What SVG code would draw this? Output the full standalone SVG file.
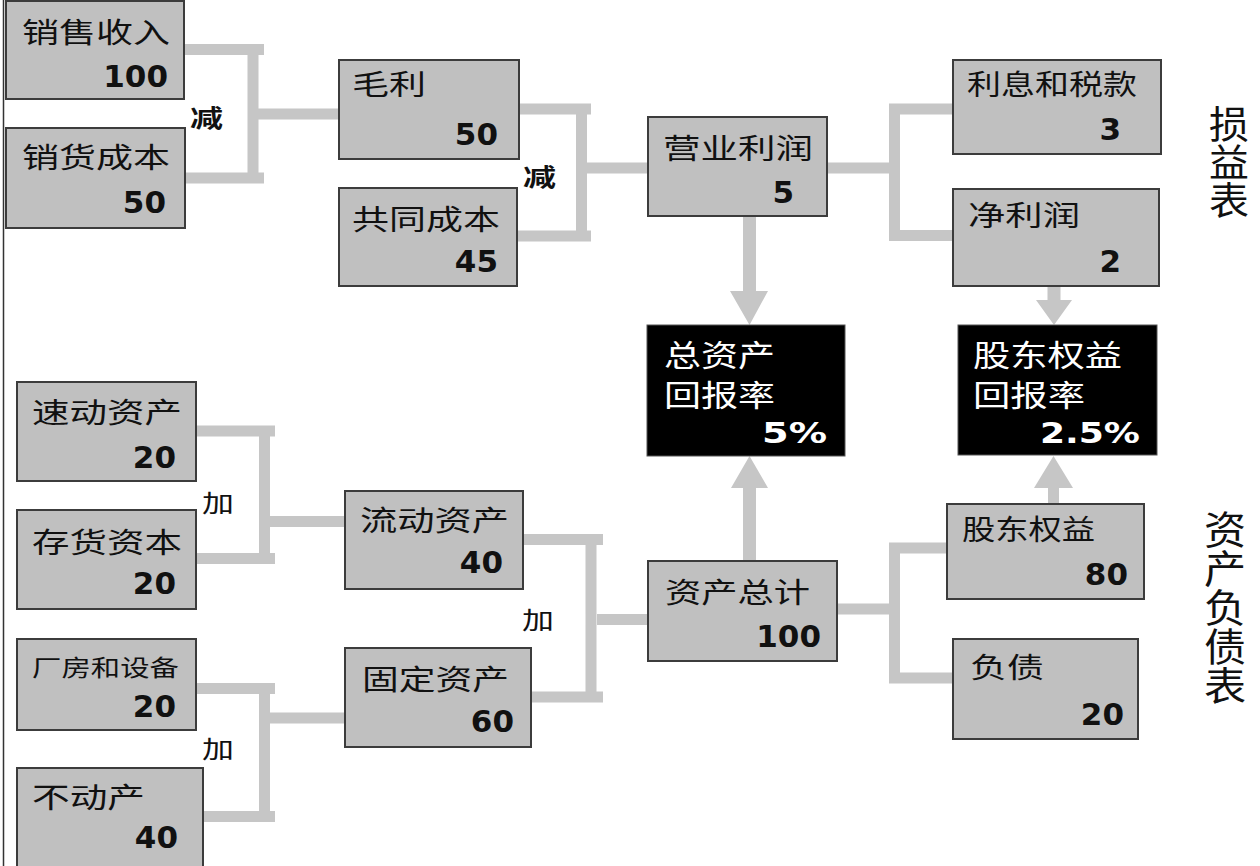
<svg xmlns="http://www.w3.org/2000/svg" width="1260" height="866" viewBox="0 0 1260 866">
<style>
.box{fill:#c0c0c0;stroke:#3c3c3c;stroke-width:2}
.blk{fill:#000;stroke:#555;stroke-width:1}
.lb{font-family:"Noto Sans CJK SC","Noto Sans",sans-serif;font-size:28px;fill:#111}
.lw{font-family:"Noto Sans CJK SC","Noto Sans",sans-serif;font-size:30px;fill:#fff}
.num{font-family:"DejaVu Sans",sans-serif;font-weight:bold;font-size:31px;fill:#111;text-anchor:end}
.nw{font-family:"DejaVu Sans",sans-serif;font-weight:bold;font-size:29px;fill:#fff}
.op{font-family:"Noto Sans CJK SC",serif;font-size:24px;fill:#111}
.side{font-family:"Noto Sans CJK SC","Noto Sans",sans-serif;font-size:39px;fill:#111;writing-mode:vertical-rl}
.cn{fill:none;stroke:#c6c6c6;stroke-width:11}
.ar{fill:#c6c6c6}
</style>
<rect x="0" y="0" width="1260" height="866" fill="#fff"/>
<line x1="3.5" y1="0" x2="3.5" y2="866" stroke="#333" stroke-width="1.5"/>

<g id="connectors">
<path class="cn" d="M184 49.5H264M253 44V183M185 178H264M258 114H339"/>
<path class="cn" d="M519 109H591M581.5 104V241M517 236H591M587 168H648"/>
<path class="cn" d="M827 168H894M894.5 104V241M889 109H953M889 235.5H953"/>
<path class="cn" d="M196 431H275M264.5 426V564M196 558.5H275M270 521.5H345"/>
<path class="cn" d="M196 688.5H275M264.5 683V822M203 816.5H275M270 718H345"/>
<path class="cn" d="M523 539.5H603M591 534V702M531 697H603M597 619.5H648"/>
<path class="cn" d="M837 609H895M894.5 543V683M889 548H947M889 678H953"/>
<polygon class="ar" points="743,216 756,216 756,291 768,291 749.5,325 730,291 743,291"/>
<polygon class="ar" points="1047.5,286 1060.5,286 1060.5,300 1072,300 1054,325 1036,300 1047.5,300"/>
<polygon class="ar" points="743,561 756,561 756,488 768,488 749.5,456 731,488 743,488"/>
<polygon class="ar" points="1048,504 1059,504 1059,488 1073,488 1053.5,456 1034,488 1048,488"/>
<text class="op" x="190" y="127" font-weight="bold" textLength="33" lengthAdjust="spacingAndGlyphs">减</text>
<text class="op" x="523" y="186" font-weight="bold" textLength="33" lengthAdjust="spacingAndGlyphs">减</text>
<text class="op" x="202" y="512" textLength="32" lengthAdjust="spacingAndGlyphs">加</text>
<text class="op" x="202" y="758" textLength="32" lengthAdjust="spacingAndGlyphs">加</text>
<text class="op" x="522" y="629" textLength="32" lengthAdjust="spacingAndGlyphs">加</text>
</g>

<g id="n-sales">
<rect class="box" x="6" y="1" width="178" height="98"/>
<text class="lb" x="22" y="43" textLength="148" lengthAdjust="spacingAndGlyphs">销售收入</text>
<text class="num" x="168" y="87">100</text>
</g>
<g id="n-cogs">
<rect class="box" x="6" y="128" width="179" height="100"/>
<text class="lb" x="22" y="168" textLength="148" lengthAdjust="spacingAndGlyphs">销货成本</text>
<text class="num" x="166" y="213">50</text>
</g>
<g id="n-gross">
<rect class="box" x="339" y="60" width="180" height="99"/>
<text class="lb" x="352" y="95" textLength="74" lengthAdjust="spacingAndGlyphs">毛利</text>
<text class="num" x="498" y="145">50</text>
</g>
<g id="n-common">
<rect class="box" x="339" y="188" width="178" height="98"/>
<text class="lb" x="352" y="230" textLength="148" lengthAdjust="spacingAndGlyphs">共同成本</text>
<text class="num" x="498" y="272">45</text>
</g>
<g id="n-op">
<rect class="box" x="648" y="117" width="179" height="99"/>
<text class="lb" x="663" y="159" textLength="150" lengthAdjust="spacingAndGlyphs">营业利润</text>
<text class="num" x="794" y="203">5</text>
</g>
<g id="n-tax">
<rect class="box" x="953" y="60" width="208" height="94"/>
<text class="lb" x="967" y="95" textLength="170" lengthAdjust="spacingAndGlyphs">利息和税款</text>
<text class="num" x="1121" y="140">3</text>
</g>
<g id="n-net">
<rect class="box" x="953" y="189" width="206" height="97"/>
<text class="lb" x="968" y="226" textLength="112" lengthAdjust="spacingAndGlyphs">净利润</text>
<text class="num" x="1121" y="272">2</text>
</g>
<g id="n-roa">
<rect class="blk" x="647" y="325" width="198" height="131"/>
<text class="lw" x="664" y="366" textLength="111" lengthAdjust="spacingAndGlyphs">总资产</text>
<text class="lw" x="664" y="406" textLength="111" lengthAdjust="spacingAndGlyphs">回报率</text>
<text class="nw" x="762" y="443" textLength="65" lengthAdjust="spacingAndGlyphs">5%</text>
</g>
<g id="n-roe">
<rect class="blk" x="958" y="325" width="199" height="130"/>
<text class="lw" x="973" y="366" textLength="149" lengthAdjust="spacingAndGlyphs">股东权益</text>
<text class="lw" x="973" y="406" textLength="112" lengthAdjust="spacingAndGlyphs">回报率</text>
<text class="nw" x="1040" y="443" textLength="100" lengthAdjust="spacingAndGlyphs">2.5%</text>
</g>
<g id="n-quick">
<rect class="box" x="17" y="382" width="179" height="99"/>
<text class="lb" x="32" y="423" textLength="150" lengthAdjust="spacingAndGlyphs">速动资产</text>
<text class="num" x="176" y="468">20</text>
</g>
<g id="n-inv">
<rect class="box" x="17" y="510" width="179" height="99"/>
<text class="lb" x="32" y="553" textLength="150" lengthAdjust="spacingAndGlyphs">存货资本</text>
<text class="num" x="176" y="594">20</text>
</g>
<g id="n-plant">
<rect class="box" x="17" y="639" width="179" height="91"/>
<text class="lb" x="32" y="676" textLength="147" lengthAdjust="spacingAndGlyphs" style="font-size:23px">厂房和设备</text>
<text class="num" x="176" y="717">20</text>
</g>
<g id="n-realestate">
<rect class="box" x="17" y="768" width="186" height="104"/>
<text class="lb" x="32" y="808" textLength="113" lengthAdjust="spacingAndGlyphs">不动产</text>
<text class="num" x="178" y="848">40</text>
</g>
<g id="n-current">
<rect class="box" x="345" y="491" width="178" height="98"/>
<text class="lb" x="360" y="531" textLength="149" lengthAdjust="spacingAndGlyphs">流动资产</text>
<text class="num" x="503" y="573">40</text>
</g>
<g id="n-fixed">
<rect class="box" x="345" y="648" width="186" height="99"/>
<text class="lb" x="362" y="690" textLength="147" lengthAdjust="spacingAndGlyphs">固定资产</text>
<text class="num" x="514" y="732">60</text>
</g>
<g id="n-total">
<rect class="box" x="648" y="561" width="189" height="100"/>
<text class="lb" x="665" y="603" textLength="145" lengthAdjust="spacingAndGlyphs">资产总计</text>
<text class="num" x="821" y="647">100</text>
</g>
<g id="n-equity">
<rect class="box" x="947" y="504" width="197" height="95"/>
<text class="lb" x="962" y="540" textLength="133" lengthAdjust="spacingAndGlyphs">股东权益</text>
<text class="num" x="1128" y="585">80</text>
</g>
<g id="n-debt">
<rect class="box" x="953" y="639" width="185" height="100"/>
<text class="lb" x="970" y="678" textLength="74" lengthAdjust="spacingAndGlyphs">负债</text>
<text class="num" x="1124" y="725">20</text>
</g>

<g id="title-income">
<text class="side" transform="translate(1229 0) scale(1.05 1)" x="0" y="105" style="font-size:38px">损益表</text>
</g>
<g id="title-balance">
<text class="side" transform="translate(1225 0) scale(1.08 1)" x="0" y="510">资产负债表</text>
</g>
</svg>
